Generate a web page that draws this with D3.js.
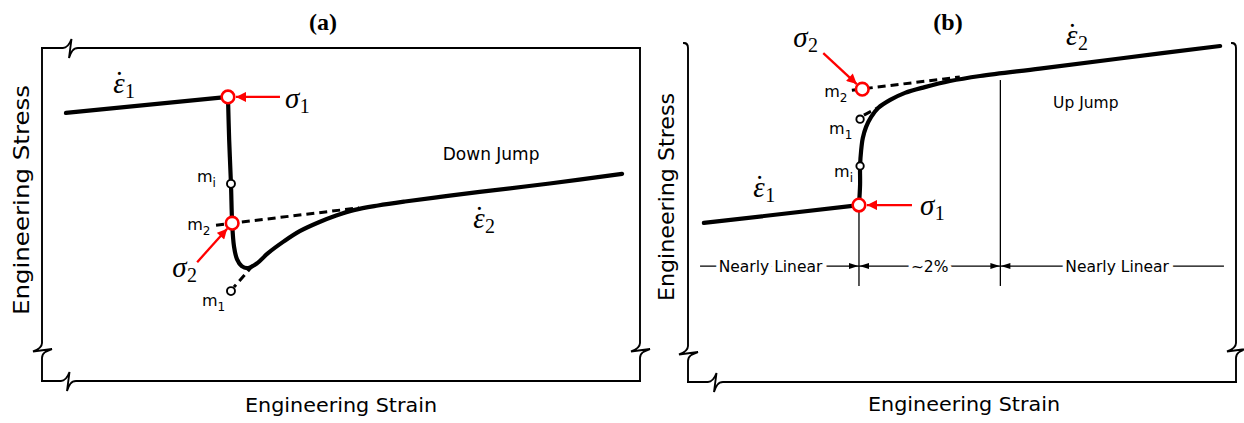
<!DOCTYPE html>
<html>
<head>
<meta charset="utf-8">
<script src="https://cdn.jsdelivr.net/npm/d3@7"></script>
<style>
  body { margin: 0; background: #fff; }
  svg { display: block; }
</style>
</head>
<body>
<svg id="chart" width="1244" height="423"></svg>
<script>
// ---------- Panel (a): down jump in strain rate (strain 0-10, stress 0-100) ----------
const aRate1Line  = [[0.40, 80.5], [3.11, 85.3]];
const aTransient  = [[3.11, 85.3], [3.13, 72.4], [3.16, 59.2], [3.18, 47.4], [3.21, 40.5],
                     [3.26, 36.6], [3.34, 34.5], [3.44, 33.9], [3.60, 35.4], [3.78, 38.4],
                     [4.05, 42.0], [4.31, 45.0], [4.62, 47.6], [4.92, 49.7], [5.23, 51.4],
                     [5.62, 52.7], [6.07, 53.9], [6.66, 55.3], [7.32, 56.8], [8.49, 59.3],
                     [9.70, 62.2]];
const aM2Extrapolation = [[2.91, 46.8], [5.30, 52.0]];
const aM1Extrapolation = [[3.53, 34.8], [3.21, 28.2]];
const aSigma1 = [3.11, 85.3];
const aSigma2 = [3.18, 47.4];
const aMi     = [3.16, 59.2];
const aM1     = [3.16, 27.0];

// ---------- Panel (b): up jump in strain rate ----------
const bRate1Line  = [[0.29, 47.2], [3.12, 52.5]];
const bTransient  = [[3.12, 52.5], [3.14, 58.5], [3.14, 64.1], [3.16, 68.8], [3.19, 72.4],
                     [3.25, 75.7], [3.34, 78.6], [3.47, 81.3], [3.69, 83.7], [3.96, 85.8],
                     [4.32, 87.5], [4.78, 89.3], [5.33, 90.8], [6.42, 93.0], [7.88, 96.0],
                     [9.71, 99.7]];
const bM2Extrapolation = [[2.99, 86.6], [4.96, 90.5]];
const bM1Extrapolation = [[3.21, 79.2], [3.59, 82.5]];
const bSigma1 = [3.12, 52.5];
const bSigma2 = [3.18, 86.9];
const bMi     = [3.14, 64.1];
const bM1     = [3.14, 78.0];

// regions of the up-jump curve
const bZoneEdges      = [3.12, 5.70];
const bZoneEdgeTop    = [52.5, 89.6];
const bZoneEdgeBottom = 28.5;
const bDimLevel       = 34.4;
const bDimExtent      = [0.22, 9.78];
const bZoneLabels     = ["Nearly Linear", "~2%", "Nearly Linear"];

// axis and panel texts
const panelTitles = ["(a)", "(b)"];
const xAxisTitle  = "Engineering Strain";
const yAxisTitle  = "Engineering Stress";

// ---------- scales ----------
const ax = d3.scaleLinear().domain([0, 10]).range([42, 640]);
const ay = d3.scaleLinear().domain([0, 100]).range([381, 48]);
const bx = d3.scaleLinear().domain([0, 10]).range([688, 1236]);
const by = d3.scaleLinear().domain([0, 100]).range([382, 45]);

const svg = d3.select("#chart");
const INK = "#000";
const RED = "#ff0000";
const SANS = "'DejaVu Sans', sans-serif";
const SERIF = "'Liberation Serif', 'Times New Roman', serif";

const defs = svg.append("defs");
defs.append("marker")
  .attr("id", "redHead").attr("viewBox", "0 0 10 10")
  .attr("refX", 10).attr("refY", 5)
  .attr("markerWidth", 11).attr("markerHeight", 10)
  .attr("markerUnits", "userSpaceOnUse").attr("orient", "auto")
  .append("path").attr("d", "M0,0 L10,5 L0,10 Z").attr("fill", RED);

const smooth   = (sx, sy) => d3.line().x(d => sx(d[0])).y(d => sy(d[1])).curve(d3.curveCatmullRom.alpha(0.5));
const straight = (sx, sy) => d3.line().x(d => sx(d[0])).y(d => sy(d[1]));

// break symbol on a horizontal edge (drawn left to right)
function hBreak(x0, y0) {
  return `L${x0 - 7},${y0} C${x0 - 2},${y0} ${x0},${y0 - 5} ${x0 + 1.5},${y0 - 9} ` +
         `L${x0 - 1},${y0 + 10} C${x0 + 1},${y0 + 4} ${x0 + 3},${y0} ${x0 + 8},${y0} `;
}
// break symbol on a vertical edge (drawn top to bottom)
function vBreak(x0, y0) {
  return `L${x0},${y0 - 7} C${x0},${y0 - 2} ${x0 - 5},${y0} ${x0 - 9},${y0 + 1.5} ` +
         `L${x0 + 10},${y0 - 1} C${x0 + 4},${y0 + 1} ${x0},${y0 + 3} ${x0},${y0 + 8} `;
}

function frame(d) {
  svg.append("path").attr("d", d)
    .attr("fill", "none").attr("stroke", INK).attr("stroke-width", 1.9)
    .attr("stroke-linecap", "square").attr("stroke-linejoin", "miter");
}

// panel (a): closed box with break marks
frame(`M42,48 ${hBreak(70, 48)} L640,48`);
frame(`M640,48 ${vBreak(640, 350)} L640,381`);
frame(`M42,381 ${hBreak(68, 381)} L640,381`);
frame(`M42,48 ${vBreak(42, 350)} L42,381`);
// panel (b): open-top bracket
frame(`M684,43 Q688,43 688,48 ${vBreak(688, 353)} L688,382`);
frame(`M688,382 ${hBreak(715, 382)} L1236,382`);
frame(`M1232,43 Q1236,43 1236,48 ${vBreak(1236, 350)} L1236,382`);

// ---------- titles and axis names ----------
svg.selectAll("text.ptitle").data(panelTitles).join("text")
  .attr("class", "ptitle")
  .attr("x", (d, i) => i === 0 ? 323 : 948).attr("y", 30)
  .attr("text-anchor", "middle")
  .attr("font-family", SERIF).attr("font-weight", "bold").attr("font-size", 24)
  .text(d => d);

[[341, 412], [964, 411]].forEach(([x, y]) => {
  svg.append("text").attr("x", x).attr("y", y).attr("text-anchor", "middle")
    .attr("font-family", SANS).attr("font-size", 20).attr("fill", INK)
    .attr("textLength", 192).attr("lengthAdjust", "spacingAndGlyphs")
    .text(xAxisTitle);
});
[[29, 200, 230], [674, 197, 208]].forEach(([x, y, len]) => {
  svg.append("text").attr("transform", `translate(${x},${y}) rotate(-90)`)
    .attr("text-anchor", "middle")
    .attr("font-family", SANS).attr("font-size", 21).attr("fill", INK)
    .attr("textLength", len).attr("lengthAdjust", "spacingAndGlyphs")
    .text(yAxisTitle);
});

// ---------- helpers for labels ----------
function mathLabel(x, y, base, sub, dotted) {
  const t = svg.append("text").attr("x", x).attr("y", y)
    .attr("font-family", SERIF).attr("font-size", 29).attr("fill", "#000")
    .attr("font-style", "italic").text(base);
  const w = t.node().getComputedTextLength();
  if (dotted) {
    svg.append("text").attr("x", x + w * 0.55).attr("y", y - 1)
      .attr("text-anchor", "middle")
      .attr("font-family", SERIF).attr("font-size", 29).attr("fill", "#000")
      .text("\u02D9");
  }
  svg.append("text").attr("x", x + w + 0.5).attr("y", y + 5)
    .attr("font-family", SERIF).attr("font-size", 20).attr("fill", "#000")
    .text(sub);
}
function mLabel(x, y, sub) {
  const t = svg.append("text").attr("x", x).attr("y", y)
    .attr("font-family", SANS).attr("font-size", 16).attr("fill", INK);
  t.append("tspan").text("m");
  t.append("tspan").attr("font-size", 12).attr("dy", 5).text(sub);
}
function redArrow(x1, y1, x2, y2) {
  svg.append("line").attr("x1", x1).attr("y1", y1).attr("x2", x2).attr("y2", y2)
    .attr("stroke", RED).attr("stroke-width", 2.3).attr("marker-end", "url(#redHead)");
}
function openCircle(cx, cy, r, color, sw) {
  svg.append("circle").attr("cx", cx).attr("cy", cy).attr("r", r)
    .attr("fill", "#fff").attr("stroke", color).attr("stroke-width", sw);
}

// ---------- panel (b) zone markers and dimension line ----------
bZoneEdges.forEach((e, i) => {
  svg.append("line")
    .attr("x1", bx(e)).attr("x2", bx(e))
    .attr("y1", by(bZoneEdgeTop[i])).attr("y2", by(bZoneEdgeBottom))
    .attr("stroke", INK).attr("stroke-width", 1.3);
});
svg.append("line")
  .attr("x1", bx(bDimExtent[0])).attr("x2", bx(bDimExtent[1]))
  .attr("y1", by(bDimLevel)).attr("y2", by(bDimLevel))
  .attr("stroke", INK).attr("stroke-width", 1.3);
bZoneEdges.forEach(e => {
  const x = bx(e), y = by(bDimLevel);
  svg.append("path").attr("d", `M${x - 0.5},${y} L${x - 10},${y - 3} L${x - 10},${y + 3} Z`).attr("fill", INK);
  svg.append("path").attr("d", `M${x + 0.5},${y} L${x + 10},${y - 3} L${x + 10},${y + 3} Z`).attr("fill", INK);
});
const zoneBounds = [bDimExtent[0], ...bZoneEdges, bDimExtent[1]];
const zoneNudge = [-9, 0, 5];
bZoneLabels.forEach((lab, i) => {
  svg.append("text")
    .attr("x", bx((zoneBounds[i] + zoneBounds[i + 1]) / 2) + zoneNudge[i])
    .attr("y", by(bDimLevel) + 6)
    .attr("text-anchor", "middle")
    .attr("font-family", SANS).attr("font-size", 15.5).attr("fill", INK)
    .attr("stroke", "#fff").attr("stroke-width", 8).attr("paint-order", "stroke")
    .text(lab);
});

// ---------- curves ----------
function dashed(data, sx, sy) {
  svg.append("path").attr("d", straight(sx, sy)(data))
    .attr("fill", "none").attr("stroke", INK).attr("stroke-width", 3)
    .attr("stroke-dasharray", "8,5");
}
function solid(data, sx, sy, gen) {
  svg.append("path").attr("d", gen(sx, sy)(data))
    .attr("fill", "none").attr("stroke", INK).attr("stroke-width", 4.2)
    .attr("stroke-linecap", "round").attr("stroke-linejoin", "round");
}

dashed(aM2Extrapolation, ax, ay);
dashed(aM1Extrapolation, ax, ay);
solid(aRate1Line, ax, ay, straight);
solid(aTransient, ax, ay, smooth);

dashed(bM2Extrapolation, bx, by);
dashed(bM1Extrapolation, bx, by);
solid(bRate1Line, bx, by, straight);
solid(bTransient, bx, by, smooth);

// ---------- marked points ----------
openCircle(ax(aMi[0]), ay(aMi[1]), 4, INK, 1.9);
openCircle(ax(aM1[0]), ay(aM1[1]), 4, INK, 1.9);
openCircle(bx(bMi[0]), by(bMi[1]), 3.7, INK, 1.9);
openCircle(bx(bM1[0]), by(bM1[1]), 3.7, INK, 1.9);

const pA1 = [ax(aSigma1[0]), ay(aSigma1[1])];
const pA2 = [ax(aSigma2[0]), ay(aSigma2[1])];
const pB1 = [bx(bSigma1[0]), by(bSigma1[1])];
const pB2 = [bx(bSigma2[0]), by(bSigma2[1])];

redArrow(pA1[0] + 52, pA1[1], pA1[0] + 8, pA1[1]);
redArrow(pA2[0] - 35, pA2[1] + 39, pA2[0] - 5, pA2[1] + 5.6);
redArrow(pB2[0] - 39, pB2[1] - 36, pB2[0] - 5.5, pB2[1] - 5.1);
redArrow(pB1[0] + 53, pB1[1], pB1[0] + 8, pB1[1]);

[pA1, pA2, pB1, pB2].forEach(p => openCircle(p[0], p[1], 6.3, RED, 2.6));

// ---------- labels ----------
mathLabel(pA1[0] + 57, pA1[1] + 11, "σ", "1", false);
mathLabel(pA2[0] - 60, pA2[1] + 54, "σ", "2", false);
mathLabel(ax(1.19), ay(86.5), "ε", "1", true);
mathLabel(ax(7.21), ay(45.9), "ε", "2", true);

mathLabel(pB1[0] + 61, pB1[1] + 10, "σ", "1", false);
mathLabel(pB2[0] - 69, pB2[1] - 42, "σ", "2", false);
mathLabel(bx(1.19), by(54.9), "ε", "1", true);
mathLabel(bx(6.90), by(100.0), "ε", "2", true);

mLabel(ax(aMi[0]) - 34, ay(aMi[1]) - 2, "i");
mLabel(pA2[0] - 45, pA2[1] + 7, "2");
mLabel(ax(aM1[0]) - 29, ay(aM1[1]) + 15, "1");
mLabel(pB2[0] - 38, pB2[1] + 8, "2");
mLabel(bx(bM1[0]) - 31, by(bM1[1]) + 15, "1");
mLabel(bx(bMi[0]) - 26, by(bMi[1]) + 11, "i");

svg.append("text").attr("x", ax(7.51)).attr("y", ay(66.4)).attr("text-anchor", "middle")
  .attr("font-family", SANS).attr("font-size", 17).attr("fill", INK).text("Down Jump");
svg.append("text").attr("x", bx(7.26)).attr("y", by(81.3)).attr("text-anchor", "middle")
  .attr("font-family", SANS).attr("font-size", 15.5).attr("fill", INK).text("Up Jump");
</script>
</body>
</html>
